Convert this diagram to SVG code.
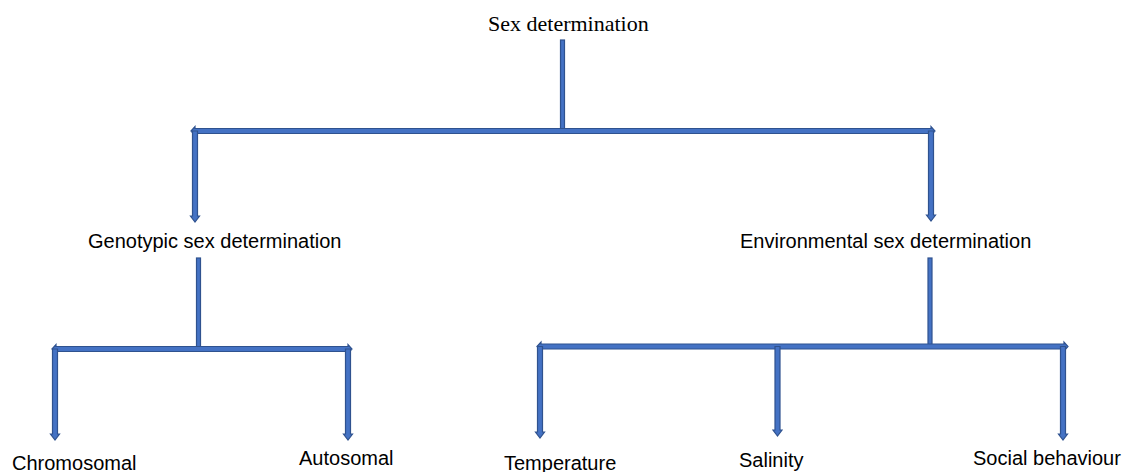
<svg xmlns="http://www.w3.org/2000/svg" width="1126" height="472" viewBox="0 0 1126 472">
<style>
.a{fill:#4472C4;stroke:#2F528F;stroke-width:1.2;stroke-linejoin:miter}
.t{font-family:"Liberation Sans",Arial,sans-serif;font-size:20px;fill:#000}
.s{font-family:"Liberation Serif","Times New Roman",serif;font-size:22px;fill:#000}
</style>
<rect width="1126" height="472" fill="#fff"/>
<g id="connectors">
<rect class="a" x="560.5" y="40" width="4" height="89"/>
<polygon class="a" points="191,131 195,126.5 195,128.5 931,128.5 931,126.5 935,131 931,135.5 931,133.5 195,133.5 195,135.5"/>
<polygon class="a" points="192.5,131 197.5,131 197.5,216 199.5,216 195,222 190.5,216 192.5,216"/>
<polygon class="a" points="928.5,131 933.5,131 933.5,215 935.5,215 931,221 926.5,215 928.5,215"/>
<rect class="a" x="196.5" y="258" width="4" height="90"/>
<polygon class="a" points="52,349 56,344.5 56,346.5 348,346.5 348,344.5 352,349 348,353.5 348,351.5 56,351.5 56,353.5"/>
<polygon class="a" points="52.5,349 57.5,349 57.5,434 59.5,434 55,440 50.5,434 52.5,434"/>
<polygon class="a" points="345.5,349 350.5,349 350.5,434 352.5,434 348,440 343.5,434 345.5,434"/>
<rect class="a" x="928" y="258" width="4" height="88"/>
<polygon class="a" points="537,346.5 541,342 541,344 1064,344 1064,342 1068,346.5 1064,351 1064,349 541,349 541,351"/>
<polygon class="a" points="537.5,346.5 542.5,346.5 542.5,432 544.5,432 540,438 535.5,432 537.5,432"/>
<polygon class="a" points="775,346.5 780,346.5 780,430 782,430 777.5,436 773,430 775,430"/>
<polygon class="a" points="1060.5,346.5 1065.5,346.5 1065.5,434 1067.5,434 1063,440 1058.5,434 1060.5,434"/>
</g>
<g id="n-root"><text class="s" x="488" y="31">Sex determination</text></g>
<g id="n-genotypic"><text class="t" x="88" y="248">Genotypic sex determination</text></g>
<g id="n-environmental"><text class="t" x="740" y="248">Environmental sex determination</text></g>
<g id="n-chromosomal"><text class="t" x="12" y="470">Chromosomal</text></g>
<g id="n-autosomal"><text class="t" x="299" y="465">Autosomal</text></g>
<g id="n-temperature"><text class="t" x="504" y="470">Temperature</text></g>
<g id="n-salinity"><text class="t" x="739" y="467">Salinity</text></g>
<g id="n-social"><text class="t" x="973" y="465">Social behaviour</text></g>
</svg>
